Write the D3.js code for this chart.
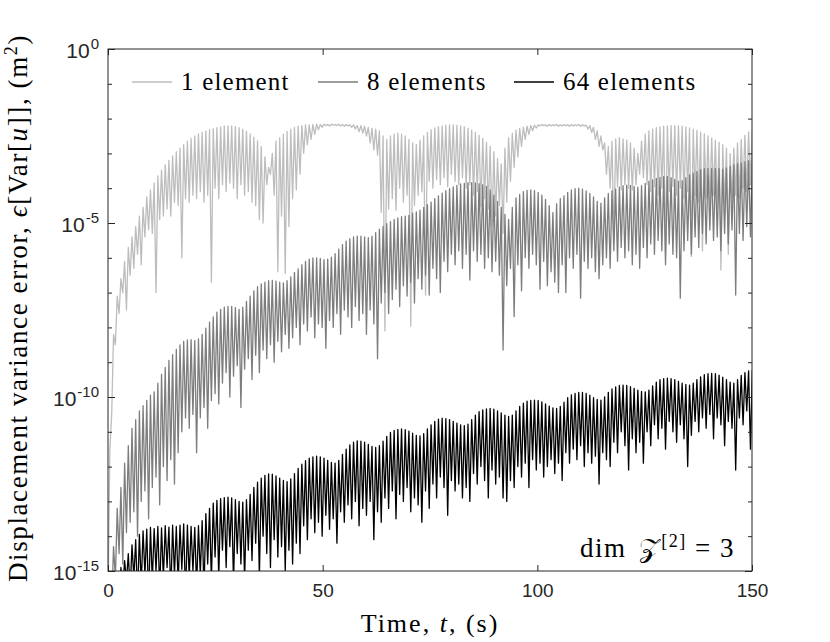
<!DOCTYPE html>
<html>
<head>
<meta charset="utf-8">
<script src="https://cdn.jsdelivr.net/npm/d3@7"></script>
<style>
  body { margin: 0; background: #fff; }
</style>
</head>
<body>
<svg id="chart" width="830" height="642"></svg>
<script>
// time between two dips of the response (s)
const period = 0.86;

// log10 of the error, read per oscillation: peak value (top) and trough value (dip)
// 1 element
const oneTop = [
  -11.5, -8.2, -7.1, -6.6, -6.1, -5.7, -5.4, -5.1, -4.8, -4.55,
  -4.25, -4.05, -3.85, -3.65, -3.48, -3.33, -3.2, -3.07, -2.95, -2.85,
  -2.75, -2.65, -2.57, -2.5, -2.44, -2.4, -2.36, -2.32, -2.29, -2.26,
  -2.24, -2.22, -2.21, -2.21, -2.23, -2.26, -2.3, -2.36, -2.44, -2.53,
  -2.64, -2.8, -3.1, -3.4, -3.0, -2.65, -2.55, -2.45, -2.37, -2.3,
  -2.25, -2.22, -2.2, -2.18, -2.18, -2.17, -2.16, -2.17, -2.16, -2.17,
  -2.16, -2.17, -2.16, -2.17, -2.17, -2.18, -2.18, -2.2, -2.2, -2.22,
  -2.25, -2.28, -2.3, -2.35, -2.5, -2.6, -2.5, -2.45, -2.42, -2.45,
  -2.5, -2.6, -2.7, -2.75, -2.62, -2.5, -2.4, -2.32, -2.27, -2.23,
  -2.21, -2.19, -2.18, -2.18, -2.19, -2.21, -2.24, -2.28, -2.33, -2.4,
  -2.48, -2.57, -2.68, -2.8, -2.95, -3.15, -3.3, -2.85, -2.55, -2.42,
  -2.33, -2.28, -2.25, -2.22, -2.2, -2.19, -2.18, -2.17, -2.18, -2.17,
  -2.18, -2.17, -2.18, -2.17, -2.18, -2.17, -2.18, -2.17, -2.18, -2.19,
  -2.2, -2.25, -2.35, -2.5, -2.7, -2.8, -2.65, -2.58, -2.55, -2.58,
  -2.62, -2.7, -2.85, -3.0, -2.65, -2.45, -2.35, -2.3, -2.26, -2.24,
  -2.22, -2.21, -2.2, -2.2, -2.21, -2.22, -2.24, -2.27, -2.3, -2.34,
  -2.39, -2.44, -2.5, -2.56, -2.62, -2.68, -2.75, -2.85, -3.0, -2.85,
  -2.7, -2.6, -2.48, -2.38, -2.3
];
const oneDip = [
  -16, -10.5, -8.5, -7.6, -7.0, -7.5, -6.5, -6.3, -5.9, -6.2,
  -5.4, -5.2, -5.3, -7.0, -4.9, -4.8, -4.6, -4.8, -4.4, -4.5,
  -6.0, -4.3, -4.4, -4.2, -4.3, -4.1, -4.4, -4.2, -6.7, -4.0,
  -4.3, -3.9, -4.1, -3.85, -4.0, -4.3, -3.9, -4.2, -4.1, -4.4,
  -4.5, -4.9, -5.0, -3.9, -3.6, -4.2, -6.4, -4.8, -6.45, -5.1,
  -4.3, -4.05, -3.6, -3.0, -2.75, -2.6, -2.45, -2.32, -2.25, -2.2,
  -2.21, -2.19, -2.2, -2.21, -2.22, -2.21, -2.25, -2.3, -2.38, -2.42,
  -2.5, -2.7, -2.9, -3.05, -4.7, -8.1, -4.6, -4.3, -4.63, -4.0,
  -4.4, -4.2, -7.96, -4.5, -4.2, -4.1, -7.07, -3.8, -4.0, -3.76,
  -3.9, -3.7, -3.96, -3.6, -3.8, -3.9, -3.7, -4.0, -3.9, -4.2,
  -4.1, -4.53, -4.3, -4.6, -5.1, -4.8, -4.5, -5.3, -4.4, -3.8,
  -3.4, -3.1, -2.8, -2.6, -2.45, -2.35, -2.27, -2.21, -2.2, -2.22,
  -2.21, -2.2, -2.22, -2.21, -2.2, -2.22, -2.21, -2.2, -2.22, -2.21,
  -2.3, -2.4, -2.6, -2.8, -2.9, -3.6, -4.0, -5.5, -3.96, -4.05,
  -3.9, -4.0, -4.05, -3.9, -3.6, -3.7, -3.9, -4.1, -3.96, -4.2,
  -4.0, -5.9, -4.1, -3.95, -4.2, -4.0, -4.3, -4.1, -5.96, -4.2,
  -4.4, -5.8, -4.3, -4.5, -4.2, -4.6, -6.35, -4.5, -5.9, -4.4,
  -4.2, -4.3, -4.0, -4.1, -3.9
];

// 8 elements
const eightTop = [
  -16, -14.3, -13.2, -12.6, -11.9, -11.4, -10.9, -10.65, -10.4, -10.25,
  -10.1, -9.95, -9.85, -9.6, -9.35, -9.15, -8.95, -8.78, -8.63, -8.5,
  -8.4, -8.36, -8.35, -8.38, -8.33, -8.2, -8.02, -7.85, -7.7, -7.56,
  -7.48, -7.42, -7.4, -7.4, -7.43, -7.48, -7.42, -7.25, -7.1, -6.95,
  -6.83, -6.75, -6.7, -6.66, -6.65, -6.67, -6.7, -6.72, -6.66, -6.55,
  -6.42, -6.32, -6.2, -6.1, -6.04, -6.0, -6.0, -6.02, -6.05, -6.04,
  -5.98, -5.88, -5.75, -5.62, -5.52, -5.45, -5.4, -5.38, -5.38, -5.4,
  -5.42, -5.38, -5.28, -5.18, -5.1, -5.02, -4.96, -4.9, -4.85, -4.82,
  -4.8, -4.78, -4.72, -4.68, -4.63, -4.55, -4.47, -4.4, -4.3, -4.22,
  -4.14, -4.07, -4.01, -3.96, -3.92, -3.88, -3.86, -3.84, -3.84, -3.85,
  -3.87, -3.9, -3.95, -4.05, -4.2, -4.38, -4.55, -4.75, -4.9, -4.55,
  -4.28, -4.18, -4.1, -4.06, -4.05, -4.07, -4.12, -4.2, -4.32, -4.5,
  -4.7, -4.45, -4.3, -4.22, -4.12, -4.05, -4.01, -4.0, -4.03, -4.08,
  -4.15, -4.25, -4.38, -4.43, -4.28, -4.15, -4.07, -4.02, -3.97, -3.93,
  -3.91, -3.92, -3.95, -3.97, -3.93, -3.86, -3.8, -3.76, -3.72, -3.69,
  -3.67, -3.67, -3.7, -3.75, -3.8, -3.78, -3.7, -3.62, -3.57, -3.52,
  -3.47, -3.44, -3.43, -3.43, -3.43, -3.44, -3.45, -3.42, -3.37, -3.33,
  -3.3, -3.27, -3.24, -3.21, -3.19
];
const eightDip = [
  -17, -16, -15.2, -14.5, -14.8, -13.9, -13.6, -13.3, -14.0, -13.0,
  -12.7, -13.5, -12.6, -12.3, -13.1, -12.0, -12.4, -11.8, -12.5, -11.6,
  -11.0, -10.6, -10.9, -10.5, -11.6, -10.6, -10.3, -10.9, -10.1, -9.9,
  -10.2, -9.6, -9.3, -10.0, -9.4, -9.1, -10.3, -9.2, -8.9, -9.5,
  -8.8, -9.3, -8.65, -8.9, -8.5, -9.0, -8.4, -8.7, -8.2, -8.6,
  -8.3, -8.0, -8.5, -7.9, -8.1, -7.7, -8.3, -7.9, -8.0, -8.6,
  -7.8, -8.0, -7.6, -8.2, -7.5, -7.7, -8.0, -7.4, -7.8, -7.6,
  -8.2, -7.5, -7.9, -8.9, -7.3, -7.0, -7.6, -7.2, -6.9, -7.4,
  -6.8, -7.1, -6.7, -7.3, -6.6, -6.9, -6.5, -7.07, -6.3, -6.6,
  -7.0, -6.1, -6.4, -5.9, -6.2, -5.8, -6.3, -5.9, -6.64, -5.8,
  -6.1, -5.9, -6.3, -6.0, -6.4, -6.1, -6.5, -8.65, -6.8, -6.3,
  -7.69, -6.2, -6.95, -6.0, -6.3, -5.9, -6.2, -6.9, -6.1, -6.8,
  -6.4, -6.7, -7.0, -6.2, -7.0, -6.0, -6.3, -5.9, -7.16, -6.1,
  -6.3, -6.0, -6.4, -6.6, -6.2, -6.0, -6.3, -5.8, -6.1, -5.7,
  -6.0, -5.8, -6.2, -5.9, -6.3, -5.7, -6.0, -5.6, -5.9, -5.5,
  -5.8, -6.2, -5.6, -5.9, -6.0, -7.16, -5.8, -5.5, -5.9, -5.4,
  -5.7, -5.3, -5.6, -5.2, -5.5, -5.4, -5.8, -5.3, -5.6, -5.2,
  -7.07, -5.3, -5.5, -5.1, -5.4
];

// 64 elements
const sixtyFourTop = [
  -16.5, -15.8, -15.2, -14.9, -14.7, -14.5, -14.25, -14.1, -13.95, -13.85,
  -13.8, -13.75, -13.78, -13.72, -13.76, -13.7, -13.74, -13.68, -13.72, -13.68,
  -13.65, -13.68, -13.72, -13.75, -13.7, -13.55, -13.35, -13.2, -13.05, -12.97,
  -12.92, -12.89, -12.88, -12.9, -12.95, -13.0, -13.02, -12.95, -12.8, -12.6,
  -12.45, -12.33, -12.25, -12.21, -12.22, -12.27, -12.33, -12.4, -12.43, -12.35,
  -12.2, -12.05, -11.93, -11.83, -11.76, -11.72, -11.7, -11.72, -11.76, -11.82,
  -11.88, -11.9, -11.82, -11.65, -11.5, -11.38, -11.3, -11.26, -11.27, -11.3,
  -11.36, -11.42, -11.45, -11.4, -11.27, -11.13, -11.02, -10.96, -10.93, -10.92,
  -10.94, -10.98, -11.04, -11.1, -11.12, -11.05, -10.92, -10.8, -10.7, -10.64,
  -10.61, -10.62, -10.65, -10.7, -10.75, -10.8, -10.82, -10.78, -10.65, -10.52,
  -10.42, -10.37, -10.34, -10.33, -10.35, -10.4, -10.46, -10.52, -10.56, -10.52,
  -10.4, -10.27, -10.18, -10.12, -10.1, -10.09, -10.1, -10.14, -10.2, -10.26,
  -10.31, -10.33, -10.27, -10.15, -10.02, -9.94, -9.9, -9.87, -9.87, -9.9,
  -9.95, -10.02, -10.07, -10.09, -10.0, -9.87, -9.77, -9.71, -9.67, -9.66,
  -9.67, -9.7, -9.75, -9.8, -9.84, -9.85, -9.8, -9.68, -9.57, -9.5,
  -9.47, -9.46, -9.47, -9.5, -9.55, -9.6, -9.64, -9.66, -9.6, -9.5,
  -9.42, -9.36, -9.33, -9.32, -9.33, -9.37, -9.43, -9.5, -9.57, -9.6,
  -9.5, -9.38, -9.3, -9.25, -9.22
];
const sixtyFourDip = [
  -17, -17, -16.5, -16, -15.5, -15.3, -15.6, -15.2, -15.8, -15.4,
  -15.1, -15.9, -15.3, -15.0, -15.6, -15.2, -14.9, -15.7, -15.1, -15.4,
  -14.95, -15.8, -15.2, -15.0, -15.5, -15.1, -15.6, -14.8, -15.3, -14.6,
  -15.2, -14.4, -14.9, -14.3, -15.4, -14.5, -14.8, -15.3, -14.4, -14.7,
  -14.2, -15.2, -14.0, -14.5, -14.9, -14.1, -14.6, -14.3, -15.0, -14.4,
  -14.8, -14.2, -14.5, -13.7, -14.1, -13.5, -13.9, -13.6, -14.0, -13.4,
  -13.8, -13.5, -14.2, -13.3, -13.6, -13.1, -13.5, -13.0, -13.7, -13.2,
  -13.4, -13.0, -14.1, -13.3, -13.6, -12.9, -13.2, -12.7, -13.5, -12.8,
  -13.0, -12.6, -13.3, -12.9, -13.1, -13.6, -12.7, -13.2, -12.5, -12.9,
  -12.3, -12.6, -13.4, -12.4, -12.7, -12.5, -12.9, -12.6, -13.0, -12.2,
  -12.5, -12.0, -12.4, -12.9, -12.1, -12.5, -12.3, -12.9, -13.0, -12.4,
  -12.6, -12.0, -12.3, -11.9, -12.6, -11.8, -12.1, -11.9, -12.3, -12.0,
  -11.8, -12.2, -11.9, -12.4, -11.6, -11.9, -11.5, -11.8, -11.4, -12.0,
  -11.6, -11.9, -11.7, -12.5, -11.6, -11.8, -12.0, -11.3, -11.6, -11.0,
  -11.4, -12.1, -11.2, -11.6, -11.3, -11.9, -11.0, -11.4, -10.8, -11.2,
  -10.9, -11.5, -10.7, -11.0, -11.3, -10.8, -11.2, -12.0, -11.1, -10.7,
  -11.0, -10.6, -10.9, -10.5, -11.2, -10.6, -10.8, -11.4, -10.7, -10.9,
  -12.1, -10.6, -10.8, -10.4, -11.5
];

const seriesNames = ["1 element", "8 elements", "64 elements"];
const seriesColors = ["#bdbdbd", "#7d7d7d", "#000000"];

const xTicks = [0, 50, 100, 150];
const yDecades = d3.range(-15, 1);      // every decade gets a tick
const yLabelExps = [0, -5, -10, -15];    // labelled decades

// Layout
const margin = { top: 49, right: 78, bottom: 71, left: 108 };
const width = 830 - margin.left - margin.right;
const height = 642 - margin.top - margin.bottom;
const axisColor = "#262626";
const serif = "'Liberation Serif', 'Times New Roman', serif";
const sans = "'Liberation Sans', Arial, sans-serif";

const svg = d3.select("#chart");
const g = svg.append("g").attr("transform", `translate(${margin.left},${margin.top})`);

const x = d3.scaleLinear().domain([0, 150]).range([0, width]);
const y = d3.scaleLog().domain([1e-15, 1]).range([height, 0]);

g.append("clipPath").attr("id", "plot-clip")
  .append("rect").attr("width", width).attr("height", height);

// dip then top for every oscillation
function buildPoints(tops, dips) {
  const pts = [];
  tops.forEach((top, k) => {
    pts.push({ t: k * period, v: dips[k] });
    pts.push({ t: k * period + period / 2, v: top });
  });
  return pts;
}

const series = [
  { name: seriesNames[0], color: seriesColors[0], points: buildPoints(oneTop, oneDip) },
  { name: seriesNames[1], color: seriesColors[1], points: buildPoints(eightTop, eightDip) },
  { name: seriesNames[2], color: seriesColors[2], points: buildPoints(sixtyFourTop, sixtyFourDip) },
];

const line = d3.line()
  .x((d) => x(d.t))
  .y((d) => y(Math.pow(10, d.v)));

g.append("g").attr("clip-path", "url(#plot-clip)")
  .selectAll("path")
  .data(series)
  .enter()
  .append("path")
  .attr("d", (d) => line(d.points))
  .attr("fill", "none")
  .attr("stroke", (d) => d.color)
  .attr("stroke-width", 1.3)
  .attr("stroke-linejoin", "round");

// Axes, ticks pointing inwards on all four sides
function styleAxis(sel) {
  sel.select(".domain").remove();
  sel.selectAll("line").attr("stroke", axisColor);
  sel.selectAll("text")
    .attr("fill", axisColor)
    .style("font-family", sans)
    .style("font-size", "19px");
}

g.append("g")
  .attr("transform", `translate(0,${height})`)
  .call(d3.axisBottom(x).tickValues(xTicks).tickSize(-6).tickSizeOuter(0).tickPadding(13))
  .call(styleAxis);

g.append("g")
  .call(d3.axisTop(x).tickValues(xTicks).tickSize(-6).tickSizeOuter(0).tickFormat(""))
  .call(styleAxis);

const decadeVals = yDecades.map((e) => Math.pow(10, e));
const labelVals = yLabelExps.map((e) => Math.pow(10, e));

g.append("g")
  .call(d3.axisLeft(y).tickValues(decadeVals).tickSize(-4).tickSizeOuter(0).tickFormat(""))
  .call(styleAxis);
g.append("g")
  .call(d3.axisLeft(y).tickValues(labelVals).tickSize(-7).tickSizeOuter(0).tickFormat(""))
  .call(styleAxis);
g.append("g")
  .attr("transform", `translate(${width},0)`)
  .call(d3.axisRight(y).tickValues(decadeVals).tickSize(-4).tickSizeOuter(0).tickFormat(""))
  .call(styleAxis);
g.append("g")
  .attr("transform", `translate(${width},0)`)
  .call(d3.axisRight(y).tickValues(labelVals).tickSize(-7).tickSizeOuter(0).tickFormat(""))
  .call(styleAxis);

// y tick labels 10^n
const yLab = g.append("g").selectAll("text")
  .data(yLabelExps)
  .enter()
  .append("text")
  .attr("x", -9)
  .attr("y", (d) => y(Math.pow(10, d)) + 9)
  .attr("text-anchor", "end")
  .attr("fill", axisColor)
  .style("font-family", sans)
  .style("font-size", "21px");
yLab.append("tspan").text("10");
yLab.append("tspan")
  .attr("dx", 1)
  .attr("dy", -9)
  .style("font-size", "15px")
  .text((d) => d);

// frame
g.append("rect")
  .attr("width", width)
  .attr("height", height)
  .attr("fill", "none")
  .attr("stroke", axisColor)
  .attr("stroke-width", 1);

// legend
const legend = g.append("g").attr("transform", "translate(0,33)");
const legendX = [24, 210, 406];
series.forEach((s, i) => {
  legend.append("line")
    .attr("x1", legendX[i]).attr("x2", legendX[i] + 40)
    .attr("y1", 0).attr("y2", 0)
    .attr("stroke", s.color)
    .attr("stroke-width", 1.3);
  legend.append("text")
    .attr("x", legendX[i] + 49)
    .attr("y", 8)
    .style("font-family", serif)
    .style("font-size", "25px")
    .style("letter-spacing", "1.2px")
    .attr("fill", "#000")
    .text(s.name);
});

// annotation
const note = g.append("text")
  .attr("x", width - 17)
  .attr("y", height - 14)
  .attr("text-anchor", "end")
  .style("font-family", serif)
  .style("font-size", "27px")
  .style("letter-spacing", "1.5px")
  .attr("fill", "#000");
note.append("tspan").text("dim ");
note.append("tspan").attr("dx", 4).text("\u{1D4B5}");
note.append("tspan").attr("dy", -10).style("font-size", "18px").text("[2]");
note.append("tspan").attr("dy", 10).text(" = 3");

// x label
const xLabel = svg.append("text")
  .attr("x", margin.left + width / 2)
  .attr("y", 632)
  .attr("text-anchor", "middle")
  .style("font-family", serif)
  .style("font-size", "26px")
  .style("letter-spacing", "2px")
  .attr("fill", "#000");
xLabel.append("tspan").text("Time, ");
xLabel.append("tspan").style("font-style", "italic").text("t");
xLabel.append("tspan").text(", (s)");

// y label
const yLabel = svg.append("text")
  .attr("transform", `translate(27,${margin.top + height / 2 - 2}) rotate(-90)`)
  .attr("text-anchor", "middle")
  .style("font-family", serif)
  .style("font-size", "27px")
  .style("letter-spacing", "1.6px")
  .attr("fill", "#000");
yLabel.append("tspan").text("Displacement variance error, ");
yLabel.append("tspan").style("font-style", "italic").text("\u03F5");
yLabel.append("tspan").text("[Var[");
yLabel.append("tspan").style("font-style", "italic").text("u");
yLabel.append("tspan").text("]], (m");
yLabel.append("tspan").attr("dy", -10).style("font-size", "18px").text("2");
yLabel.append("tspan").attr("dy", 10).text(")");
</script>
</body>
</html>
